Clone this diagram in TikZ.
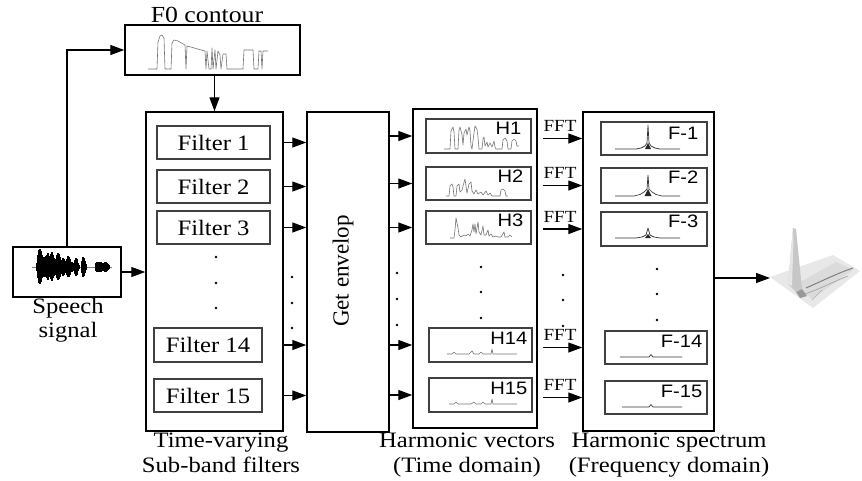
\documentclass[tikz,border=0pt]{standalone}
\usepackage{fontspec}
\setmainfont[FakeStretch=1.12]{Liberation Serif}
\newfontfamily\plainserif{Liberation Serif}
\newfontfamily\hsans[FakeStretch=1.12]{Liberation Sans}
\usetikzlibrary{arrows.meta,calc}
\begin{document}
\begin{tikzpicture}[x=1pt,y=-1pt,
  outer/.style={draw=black, line width=1.5pt, inner sep=0pt},
  inner/.style={draw=black!75, line width=1.1pt, inner sep=0pt},
  arr/.style={-{Triangle[length=14pt,width=10pt]}, line width=1.3pt},
  flt/.style={inner, font=\fontsize{22}{24}\selectfont},
  lbl/.style={inner sep=0pt, align=center, font=\fontsize{22}{24.5}\selectfont},
  tag/.style={inner sep=0pt, font=\hsans\fontsize{18}{18}\selectfont},
  ffttxt/.style={inner sep=0pt, font=\fontsize{17}{17}\selectfont},
  wave/.style={draw=black!55, line width=0.6pt, line join=round},
  spec/.style={draw=black!80, line width=0.7pt, line join=round},
  dot/.style={fill=black, circle, inner sep=0pt, minimum size=2.8pt}
]
\useasboundingbox (0,0) rectangle (862,480);

% ---------- boxes ----------
\node[outer, minimum width=175pt, minimum height=50pt] (f0) at (212.5,50) {};
\node[inner sep=0pt, anchor=base, font=\fontsize{23}{24}\selectfont] (f0t) at (207,22) {F0 contour};
\node[outer, minimum width=108pt, minimum height=50pt] (sp) at (67,272) {};
\node[lbl, anchor=north] (spt) at (68,298) {Speech\\signal};

\node[outer, minimum width=137pt, minimum height=319pt] (fb) at (214.5,271.5) {};
\node[flt, minimum width=113pt, minimum height=33pt] (fl1) at (213.5,142.5) {Filter 1};
\node[flt, minimum width=113pt, minimum height=33pt] (fl2) at (213.5,186.5) {Filter 2};
\node[flt, minimum width=113pt, minimum height=33pt] (fl3) at (213.5,227.5) {Filter 3};
\node[flt, minimum width=108pt, minimum height=34pt] (fl14) at (208,345) {Filter 14};
\node[flt, minimum width=108pt, minimum height=33pt] (fl15) at (208,395.5) {Filter 15};
\node[lbl, anchor=north] (fbt) at (221,433) {Time-varying\\Sub-band filters};

\node[outer, minimum width=82pt, minimum height=320pt] (env) at (348,272) {};
\node[inner sep=0pt, rotate=90, font=\plainserif\fontsize{23}{24}\selectfont] (envt) at (343,271) {Get envelop};

\node[outer, minimum width=124pt, minimum height=319pt] (hb) at (475,268.5) {};
\node[inner, minimum width=105pt, minimum height=34pt] (h1) at (478.5,136) {};
\node[inner, minimum width=105pt, minimum height=33pt] (h2) at (478.5,183.5) {};
\node[inner, minimum width=105pt, minimum height=33pt] (h3) at (478.5,227.5) {};
\node[inner, minimum width=103pt, minimum height=34pt] (h14) at (480.5,345) {};
\node[inner, minimum width=103pt, minimum height=34pt] (h15) at (480.5,395) {};
\node[tag, anchor=north east] (h1t) at ($(h1.north east)+(-10,3)$) {H1};
\node[tag, anchor=north east] (h2t) at ($(h2.north east)+(-8,3)$) {H2};
\node[tag, anchor=north east] (h3t) at ($(h3.north east)+(-8,3)$) {H3};
\node[tag, anchor=north east] (h14t) at ($(h14.north east)+(-5,4)$) {H14};
\node[tag, anchor=north east] (h15t) at ($(h15.north east)+(-5,4)$) {H15};
\node[lbl, anchor=north] (hbt) at (467,433) {Harmonic vectors\\(Time domain)};

\node[outer, minimum width=131pt, minimum height=319pt] (fo) at (648.5,271.5) {};
\node[inner, minimum width=106pt, minimum height=33pt] (s1) at (654,138.5) {};
\node[inner, minimum width=106pt, minimum height=35pt] (s2) at (654,185.5) {};
\node[inner, minimum width=106pt, minimum height=34pt] (s3) at (654,229) {};
\node[inner, minimum width=102pt, minimum height=33pt] (s14) at (656,347.5) {};
\node[inner, minimum width=102pt, minimum height=33pt] (s15) at (656,397.5) {};
\node[tag, anchor=north east] (s1t) at ($(s1.north east)+(-9,5)$) {F-1};
\node[tag, anchor=north east] (s2t) at ($(s2.north east)+(-9,3)$) {F-2};
\node[tag, anchor=north east] (s3t) at ($(s3.north east)+(-9,3)$) {F-3};
\node[tag, anchor=north east] (s14t) at ($(s14.north east)+(-5,4)$) {F-14};
\node[tag, anchor=north east] (s15t) at ($(s15.north east)+(-5,4)$) {F-15};
\node[lbl, anchor=north] (fot) at (669,433) {Harmonic spectrum\\(Frequency domain)};

\coordinate (surf) at (770,278);

% ---------- connectors ----------
\draw[arr] (sp.north) |- (f0.west);
\draw[arr] (f0.south -| fb.north) -- (fb.north);
\draw[arr] (sp.east) -- (fb.west |- sp.east);
\foreach \a in {fl1,fl2,fl3,fl14,fl15}
  \draw[arr] (fb.east |- \a.east) -- (env.west |- \a.east);
\foreach \a in {h1,h2,h3,h14,h15}
  \draw[arr] (env.east |- \a.west) -- (hb.west |- \a.west);
\foreach \a/\b in {h1/s1,h2/s2,h3/s3,h14/s14,h15/s15}
  \draw[arr, shorten <=5pt] (hb.east |- \b.west) -- node[ffttxt, above=6pt] {FFT} (fo.west |- \b.west);
\draw[arr] (fo.east |- surf) -- (surf);

% ---------- dots ----------
\foreach \x/\ys in {216/{257,283,308}, 292/{277,303,328}, 397/{273,299,325}, 481/{267,292,318}, 563/{275,300,326}, 657/{269,294,320}}
  \foreach \y in \ys \node[dot] at (\x,\y) {};

% ---------- F0 contour ----------
\draw[wave] (148,69)--(157,69)--(158,42)--(160,36)--(162,35)--(164,38)--(165,69)--(171,69)--(172,43)--(174,40)--(178,41)--(185,45)--(186,69)--(187,46)--(205,51)--(206,69)--(207,51)--(209,69)--(211,69)--(212,48)--(213,69)--(215,50)--(216,69)--(218,51)--(220,55)--(221,69)--(223,54)--(226,54)--(227,69)--(243,69)--(244,50)--(253,50)--(254,69)--(258,69)--(259,51)--(261,51)--(262,69)--(263,51)--(268,51);

% ---------- speech waveform ----------
\draw[black!50, line width=0.5pt] (32,267) -- (112,267);
\foreach \x/\a in {37/4,38/12,39/17,40/18,41/16,42/12,43/9,44/10,45/8,46/11,47/12,48/14,49/11,50/9,51/13,52/15,53/12,54/9,55/7,56/8,57/12,58/14,59/13,60/10,61/6,62/7,63/9,64/8,65/6,66/5,67/8,68/11,69/10,70/8,71/4,72/5,73/4,74/3,75/7,76/9,77/8,78/4,79/2,82/6,83/10,84/9,85/6,86/3,96/4,97/5,98/5,99/4,100/5,101/5,102/4,103/3,104/4,105/5,106/5,107/4,108/3,109/2}
  \draw[black, line width=1.3pt] (\x,267-\a) -- (\x,267+\a*0.95);

% ---------- harmonic vectors ----------
\begin{scope}[shift={(426,149)}]
\draw[wave] (18,0)--(24,0)--(25,-18)--(27,-22)--(28,-17)--(29,0)--(32,0)--(33,-19)--(34,-22)--(36,-14)--(37,-4)--(38,-16)--(40,-20)--(41,-14)--(43,-22)--(44,-18)--(45,-3)--(46,0)--(48,-16)--(49,-23)--(51,-20)--(52,-12)--(53,0)--(56,0)--(57,-10)--(58,-12)--(59,-3)--(61,-7)--(62,-2)--(64,-6)--(66,-2)--(68,-8)--(69,-2)--(70,0)--(76,0)--(77,-9)--(79,-11)--(81,-8)--(82,0)--(85,0)--(86,-8)--(88,-10)--(90,-8)--(91,-3)--(93,-3);
\end{scope}
\begin{scope}[shift={(426,196)}]
\draw[wave] (20,0)--(23,0)--(24,-10)--(26,-12)--(27,-9)--(28,0)--(30,0)--(31,-10)--(33,-12)--(34,-4)--(36,-6)--(37,-10)--(39,-17)--(40,-10)--(41,-3)--(43,-12)--(45,-14)--(46,-5)--(48,-2)--(50,-6)--(52,-2)--(55,-4)--(57,-1)--(60,-5)--(62,-1)--(64,-3)--(66,0)--(74,0)--(75,-6)--(77,-7)--(79,-5)--(80,0)--(82,0);
\end{scope}
\begin{scope}[shift={(426,238)}]
\draw[wave] (24,0)--(28,0)--(29,-8)--(30,-20)--(32,-10)--(33,-3)--(35,-1)--(38,-3)--(40,-2)--(42,-4)--(44,-2)--(46,-8)--(47,-14)--(48,-6)--(49,-14)--(50,-4)--(52,-16)--(53,-6)--(55,-3)--(57,-12)--(58,-3)--(60,-3)--(62,-8)--(63,-2)--(65,-4)--(67,-1)--(70,-2)--(72,-1)--(75,-1)--(78,-6)--(79,-1)--(82,-1)--(84,-3)--(86,-1);
\end{scope}
\begin{scope}[shift={(429,354)}]
\draw[wave] (18,0)--(23,0)--(25,-2)--(27,0)--(40,0)--(43,-3)--(45,0)--(50,0)--(52,-2)--(54,0)--(62,0)--(63,-5)--(64,0)--(88,0);
\end{scope}
\begin{scope}[shift={(429,404)}]
\draw[wave] (20,0)--(25,0)--(27,-2)--(29,0)--(42,0)--(45,-2)--(47,0)--(52,0)--(54,-2)--(56,0)--(62,0)--(63,-5)--(64,0)--(88,0);
\end{scope}

% ---------- harmonic spectra ----------
\begin{scope}[shift={(648,149)}]
\draw[spec] (-33,0)--(-12,0)--(-7,-1)--(-3,-3)--(-1,-6)--(0,-24)--(1,-6)--(3,-3)--(7,-1)--(12,0)--(32,0);
\fill[black!85] (-3,0)--(0,-6)--(3,0)--cycle;
\end{scope}
\begin{scope}[shift={(648,196)}]
\draw[spec] (-33,0)--(-14,0)--(-8,-1.5)--(-4,-4)--(-1,-7)--(0,-21)--(1,-7)--(4,-4)--(8,-1.5)--(14,0)--(32,0);
\fill[black!85] (-3.5,0)--(0,-7)--(3.5,0)--cycle;
\end{scope}
\begin{scope}[shift={(648,238)}]
\draw[spec] (-33,0)--(-12,0)--(-6,-1)--(-2,-3)--(0,-10)--(2,-3)--(6,-1)--(12,0)--(32,0);
\fill[black!85] (-3,0)--(0,-4)--(3,0)--cycle;
\end{scope}
\begin{scope}[shift={(651,357)}]
\draw[spec] (-31,0)--(-2,0)--(0,-2.5)--(2,0)--(31,0);
\end{scope}
\begin{scope}[shift={(651,407)}]
\draw[spec] (-29,0)--(-2,0)--(0,-2.5)--(2,0)--(31,0);
\end{scope}

% ---------- 3D surface ----------
\fill[black!9] (770,277)--(833,255)--(860,271)--(813,308)--cycle;
\fill[black!14] (795,285)--(836,262)--(853,270)--(812,299)--cycle;
\draw[black!50, line width=1pt] (806,288) .. controls (822,281) and (838,273) .. (853,268);
\draw[black!35, line width=0.7pt] (802,295) .. controls (820,289) and (835,281) .. (848,276);
\draw[black!30, line width=0.6pt] (812,300) -- (822,290);
\fill[black!22] (788,284)--(793,228)--(796,229)--(802,289)--(796,292)--cycle;
\fill[black!10] (788,284)--(793,228)--(793.5,240)--(792,286)--cycle;
\fill[black!40] (796,292)--(802,289)--(807,296)--(800,298)--cycle;
\end{tikzpicture}
\end{document}
